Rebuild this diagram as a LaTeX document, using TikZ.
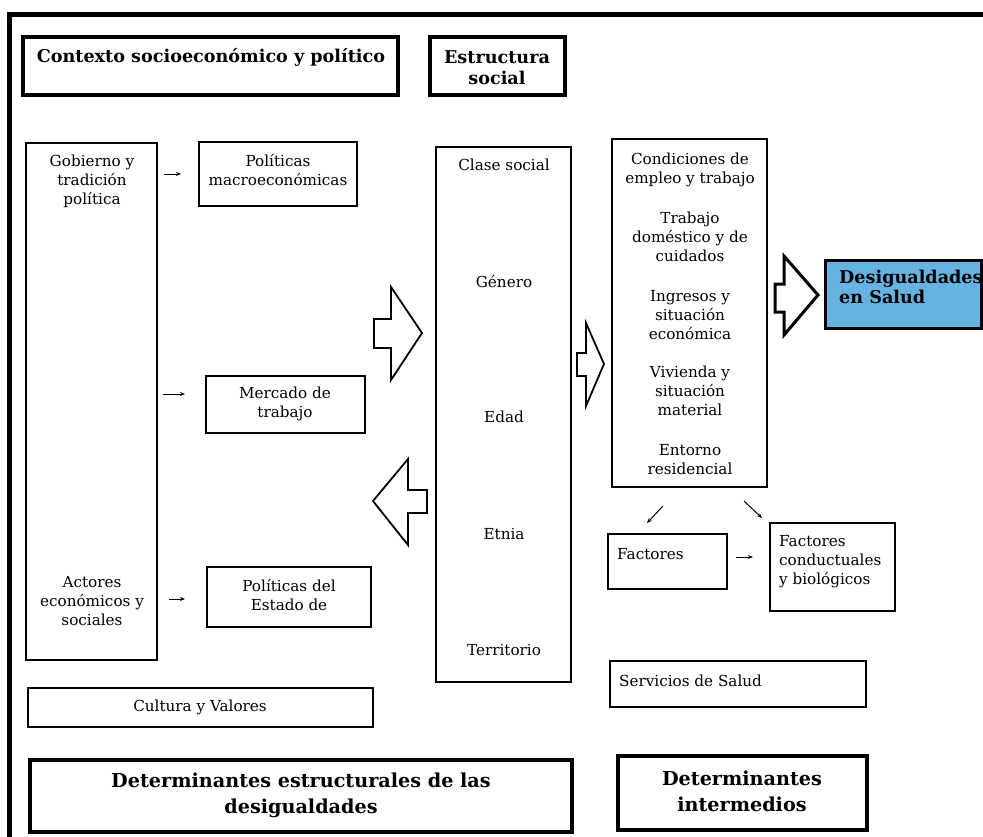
\documentclass[tikz,border=0pt]{standalone}
\usepackage{fontspec}
\setmainfont{DejaVu Serif}
\usetikzlibrary{arrows.meta,fit}
\definecolor{saludblue}{RGB}{102,178,224}

\begin{document}
\begin{tikzpicture}[x=1pt,y=-1pt,
  box/.style={draw, line width=1.6pt, inner sep=0pt, fit={#1}},
  hbox/.style={draw, line width=3.5pt, inner sep=0pt, fit={#1}},
  txt/.style={font=\fontsize{15.2}{19}\selectfont, align=center, inner sep=0pt},
  ltxt/.style={font=\fontsize{15.2}{19}\selectfont, align=left, inner sep=0pt, anchor=west},
  htxt/.style={font=\fontsize{17.6}{21}\selectfont\bfseries, align=center, inner sep=0pt},
  ftxt/.style={font=\fontsize{19.2}{26}\selectfont\bfseries, align=center, inner sep=0pt},
  blockarrow/.style={draw, line width=1.8pt, fill=white, line join=miter},
  smallarrow/.style={line width=1pt, -{Stealth[length=5pt,width=4pt]}}]
\useasboundingbox (0,0) rectangle (983,836);
\clip (0,0) rectangle (983,836);
\fill[white] (0,0) rectangle (983,836);

% outer frame
\draw[line width=5pt] (9.5,14.5) rectangle (1100,900);

% titles
\node[hbox={(23,37) (398,95)}] (contexto) {};
\node[htxt] (contextoT) at (211,57) {Contexto socioeconómico y político};
\node[hbox={(430,37) (565,95)}] (estructura) {};
\node[htxt] (estructuraT) at (497,67.5) {Estructura\\social};

% structural determinants column
\node[box={(26,143) (157,660)}] (gob) {};
\node[txt] (gobT) at (92,181) {Gobierno y\\tradición\\política};
\node[txt] (actT) at (92,601) {Actores\\económicos y\\sociales};

\node[box={(199,142) (357,206)}] (macro) {};
\node[txt] (macroT) at (278,170) {Políticas\\macroeconómicas};
\node[box={(206,376) (365,433)}] (mercado) {};
\node[txt] (mercadoT) at (285,403.5) {Mercado de\\trabajo};
\node[box={(207,567) (371,627)}] (estado) {};
\node[txt] (estadoT) at (289,595) {Políticas del\\Estado de};

\node[box={(28,688) (373,727)}] (cultura) {};
\node[txt] (culturaT) at (200,707) {Cultura y Valores};

% social structure axes
\node[box={(436,147) (571,682)}] (clase) {};
\node[txt] (c1) at (504,165) {Clase social};
\node[txt] (c2) at (504,282) {Género};
\node[txt] (c3) at (504,417) {Edad};
\node[txt] (c4) at (504,534) {Etnia};
\node[txt] (c5) at (504,650) {Territorio};

% intermediate determinants
\node[box={(612,139) (767,487)}] (cond) {};
\node[txt] (d1) at (690,170) {Condiciones de\\empleo y trabajo};
\node[txt] (d2) at (690,237) {Trabajo\\doméstico y de\\cuidados};
\node[txt] (d3) at (690,315) {Ingresos y\\situación\\económica};
\node[txt] (d4) at (690,391) {Vivienda y\\situación\\material};
\node[txt] (d5) at (690,459.5) {Entorno\\residencial};

\node[draw, line width=3pt, fill=saludblue, inner sep=0pt, fit={(825,260) (981,328)}] (desig) {};
\node[ltxt, font=\fontsize{17.6}{19.5}\selectfont\bfseries] (desigT) at (839,287) {Desigualdades\\en Salud};

\node[box={(608,534) (727,589)}] (fact) {};
\node[ltxt] (factT) at (617,554) {Factores};
\node[box={(770,523) (895,611)}] (conduct) {};
\node[ltxt] (conductT) at (779,562) {Factores\\conductuales\\y biológicos};
\node[box={(610,661) (866,707)}] (serv) {};
\node[ltxt] (servT) at (619,681) {Servicios de Salud};

% footers
\node[draw, line width=4pt, inner sep=0pt, fit={(30,760) (572,832)}] (detest) {};
\node[ftxt] (detestT) at (301,795) {Determinantes estructurales de las\\desigualdades};
\node[draw, line width=4pt, inner sep=0pt, fit={(618,756) (867,830)}] (detint) {};
\node[ftxt] (detintT) at (742,791) {Determinantes\\intermedios};

% block arrows
\draw[blockarrow] (374,319) -- (391,319) -- (391,287) -- (422,333) -- (391,380) -- (391,348) -- (374,348) -- cycle;
\draw[blockarrow] (427,490) -- (408,490) -- (408,459) -- (373,501) -- (408,545) -- (408,513) -- (427,513) -- cycle;
\draw[blockarrow] (577,353) -- (586,353) -- (586,323) -- (604,364) -- (586,406) -- (586,376) -- (577,376) -- cycle;
\draw[blockarrow, line width=3pt] (775,284) -- (784,284) -- (784,256) -- (818,295) -- (784,335) -- (784,312) -- (775,312) -- cycle;

% small connectors
\coordinate (a1s) at (164,174); \coordinate (a1e) at (181,174);
\coordinate (a2s) at (163,394); \coordinate (a2e) at (185,394);
\coordinate (a3s) at (169,599); \coordinate (a3e) at (185,599);
\coordinate (a4s) at (663,506); \coordinate (a4e) at (647,523);
\coordinate (a5s) at (744,501); \coordinate (a5e) at (762,518);
\coordinate (a6s) at (736,557); \coordinate (a6e) at (753,557);
\draw[smallarrow] (a1s) -- (a1e);
\draw[smallarrow] (a2s) -- (a2e);
\draw[smallarrow] (a3s) -- (a3e);
\draw[smallarrow] (a4s) -- (a4e);
\draw[smallarrow] (a5s) -- (a5e);
\draw[smallarrow] (a6s) -- (a6e);
\end{tikzpicture}
\end{document}
